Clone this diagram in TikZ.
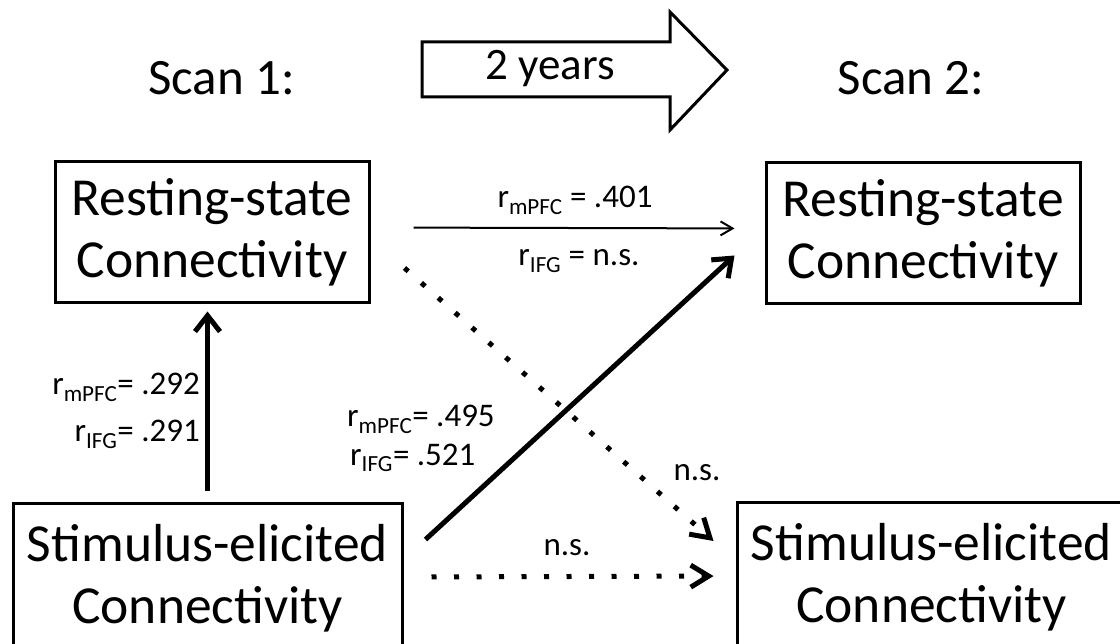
\documentclass[tikz,border=0pt]{standalone}
\usepackage{fontspec}
\setmainfont{Carlito}
\usetikzlibrary{arrows.meta}

\tikzset{
	box/.style={draw, line width=3pt, align=center, inner sep=0pt, font=\fontsize{53.5}{62}\selectfont},
	lbl/.style={inner sep=0pt, anchor=base, font=\fontsize{33}{40}\selectfont},
	head/.style={inner sep=0pt, anchor=base, font=\fontsize{51}{60}\selectfont},
	link/.style={line width=5pt, -{Straight Barb[length=16pt,width=25pt]}},
	thinlink/.style={line width=2pt, -{Straight Barb[length=12pt,width=14pt]}},
	dotlink/.style={line width=5pt, dash pattern=on 5pt off 17.5pt, -{Straight Barb[length=18pt,width=22pt]}}
}

\begin{document}
\begin{tikzpicture}[x=1pt,y=-1pt]
	\useasboundingbox[fill=white] (0,0) rectangle (1120,644);
	\clip (0,0) rectangle (1120,644);

	% headings
	\node[head] (scan1) at (221.5,95) {Scan 1:};
	\node[head] (scan2) at (911,95) {Scan 2:};

	% time arrow
	\draw[line width=3pt, line join=miter] (422,42) -- (670,42) -- (670,12) -- (727,70) -- (670,130) -- (670,97) -- (422,97) -- cycle;
	\node[inner sep=0pt, anchor=base, font=\fontsize{45}{50}\selectfont] (years) at (550,80) {2 years};

	% measures
	\node[box, minimum width=314, minimum height=141] (rest1) at (212,232.5) {Resting-state\\Connectivity};
	\node[box, minimum width=314, minimum height=141] (rest2) at (923,233.5) {Resting-state\\Connectivity};
	\node[box, minimum width=389, minimum height=150] (stim1) at (207.5,578) {Stimulus-elicited\\Connectivity};
	\node[box, minimum width=389, minimum height=150] (stim2) at (931.5,577) {Stimulus-elicited\\Connectivity};

	% paths
	\draw[link, shorten <=11pt, shorten >=7pt] (stim1.north) -- (stim1.north |- rest1.south);
	\draw[thinlink, shorten <=43pt, shorten >=30pt] ([yshift=5pt]rest1.east) -- ([yshift=5pt]rest2.west);
	\draw[link] ([shift={(22,38)}]stim1.north east) -- ([shift={(-30,-50)}]rest2.south west);
	\draw[dotlink] ([shift={(34,35.5)}]rest1.east) -- ([shift={(-22,-36)}]stim2.west);
	\draw[dotlink, shorten <=28pt, shorten >=22pt] ([yshift=1pt]stim1.east) -- ([yshift=1pt]stim2.west);

	% coefficients
	\node[lbl] (r401) at (575,208) {r\textsubscript{mPFC} = .401};
	\node[lbl] (rns) at (579,266) {r\textsubscript{IFG} = n.s.};
	\node[lbl, anchor=base east] (r292) at (200,395) {r\textsubscript{mPFC}= .292};
	\node[lbl, anchor=base east] (r291) at (200,442) {r\textsubscript{IFG}= .291};
	\node[lbl, anchor=base west] (r495) at (347,427) {r\textsubscript{mPFC}= .495};
	\node[lbl, anchor=base west] (r521) at (350,465) {r\textsubscript{IFG}= .521};
	\node[lbl] (nsdiag) at (697,480) {n.s.};
	\node[lbl] (nshor) at (567,555) {n.s.};
\end{tikzpicture}
\end{document}
